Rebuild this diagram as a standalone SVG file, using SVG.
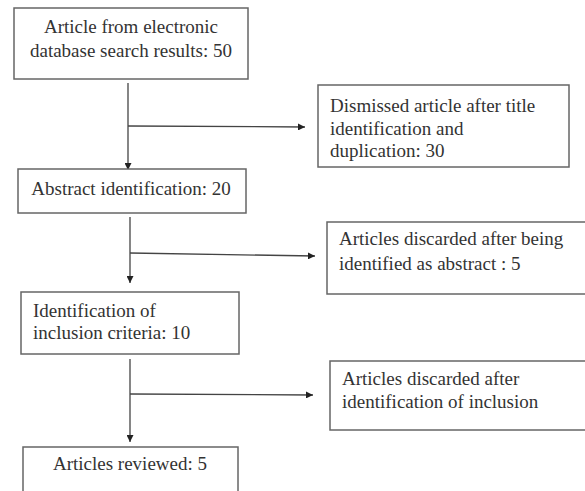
<svg xmlns="http://www.w3.org/2000/svg" width="585" height="491" viewBox="0 0 585 491">
<style>
.box{fill:#fff;stroke:#666;stroke-width:1.5}
.t{font-family:'Liberation Serif',serif;font-size:19px;fill:#333}
.c{text-anchor:middle}
.ln{stroke:#444;stroke-width:1.3;fill:none}
</style>
<defs>
<marker id="ah" viewBox="0 0 10 10" refX="10" refY="5" markerWidth="7" markerHeight="7" markerUnits="userSpaceOnUse" orient="auto">
<path d="M0,0 L10,5 L0,10 z" fill="#222"/>
</marker>
</defs>
<rect width="585" height="491" fill="#fff"/>
<g id="connectors">
<line class="ln" x1="128" y1="83" x2="128" y2="170" marker-end="url(#ah)"/>
<line class="ln" x1="128" y1="126" x2="305" y2="127" marker-end="url(#ah)"/>
<line class="ln" x1="130" y1="217" x2="130" y2="283" marker-end="url(#ah)"/>
<line class="ln" x1="130" y1="253" x2="315" y2="256" marker-end="url(#ah)"/>
<line class="ln" x1="130" y1="359" x2="130" y2="442" marker-end="url(#ah)"/>
<line class="ln" x1="130" y1="394" x2="313" y2="395" marker-end="url(#ah)"/>
</g>
<g id="n1">
<rect class="box" x="14" y="8" width="234" height="71"/>
<text class="t c" x="131" y="33">Article from electronic</text>
<text class="t c" x="131" y="57">database search results: 50</text>
</g>
<g id="n2">
<rect class="box" x="318" y="85" width="251" height="82"/>
<text class="t" x="330" y="112">Dismissed article after title</text>
<text class="t" x="330" y="135">identification and</text>
<text class="t" x="330" y="157">duplication: 30</text>
</g>
<g id="n3">
<rect class="box" x="18" y="169" width="228" height="44"/>
<text class="t c" x="131" y="195">Abstract identification: 20</text>
</g>
<g id="n4">
<rect class="box" x="327" y="222" width="265" height="72"/>
<text class="t" x="339" y="245">Articles discarded after being</text>
<text class="t" x="339" y="270">identified as abstract : 5</text>
</g>
<g id="n5">
<rect class="box" x="21" y="292" width="218" height="62"/>
<text class="t" x="33" y="317">Identification of</text>
<text class="t" x="33" y="339">inclusion criteria: 10</text>
</g>
<g id="n6">
<rect class="box" x="330" y="361" width="262" height="69"/>
<text class="t" x="342" y="385">Articles discarded after</text>
<text class="t" x="342" y="408">identification of inclusion</text>
</g>
<g id="n7">
<rect class="box" x="23" y="447" width="215" height="60"/>
<text class="t c" x="130" y="470">Articles reviewed: 5</text>
</g>
</svg>
